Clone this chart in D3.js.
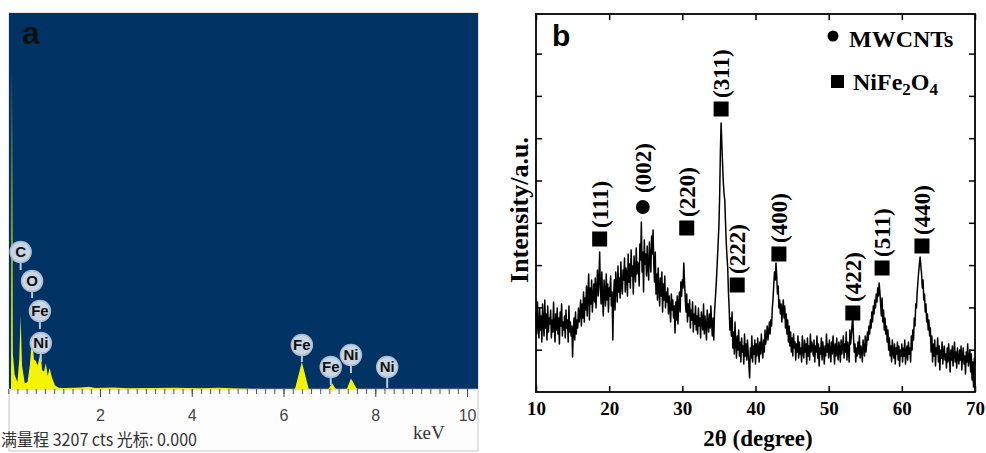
<!DOCTYPE html>
<html>
<head>
<meta charset="utf-8">
<script src="https://d3js.org/d3.v7.min.js"></script>
<style>
html, body { margin: 0; padding: 0; background: #fff; overflow: hidden; }
</style>
</head>
<body>
<svg width="986" height="453"></svg>
<script>
// ---- panel a: EDS spectrum ----
var edsKeV = [0, 0.06, 0.08, 0.10, 0.14, 0.20, 0.24, 0.27, 0.30, 0.36, 0.42, 0.47, 0.52, 0.56, 0.60, 0.64, 0.70, 0.74, 0.78, 0.82, 0.86, 0.90, 0.96, 1.02, 1.10, 1.20,
  1.45, 1.60, 1.75, 1.90, 2.30, 2.60, 3.20, 3.60, 4.20, 4.60, 5.00, 5.50, 6.25, 6.40, 6.55, 6.98, 7.06, 7.14, 7.38, 7.47, 7.60, 10.2]
var edsCts = [0, 0, 2750, 300, 120, 60, 250, 630, 200, 50, 60, 200, 440, 250, 240, 200, 300, 160, 150, 220, 110, 180, 90, 30, 10, 8,
  10, 12, 20, 8, 12, 6, 8, 10, 6, 10, 4, 0, 0, 230, 0, 0, 50, 0, 0, 90, 0, 0]
var edsTicks = [2, 4, 6, 8, 10]
var edsLabels = ["C", "O", "Fe", "Ni", "Fe", "Fe", "Ni", "Ni"]
var edsLabelKeV = [0.27, 0.52, 0.69, 0.71, 6.40, 7.03, 7.47, 8.26]
var edsLabelCts = [1169, 921, 665, 392, 375, 188, 290, 188]
var edsStemCts = [1015, 776, 512, 230, 230, 34, 136, 9]
var edsFooter = "满量程 3207 cts 光标: 0.000"

// ---- panel b: XRD pattern (2θ from 10 to 70 every 0.1) ----
var xrdIntensity = [
  80, 58, 90, 66, 54, 84, 62, 76, 50, 88, 70, 56, 92, 64, 78, 52, 86, 60, 74, 68,
  82, 54, 72, 60, 90, 66, 50, 78, 62, 84, 58, 74, 48, 80, 66, 88, 56, 70, 62, 76,
  54, 82, 64, 72, 50, 86, 60, 70, 56, 66, 35, 62, 74, 52, 80, 58, 72, 64, 84, 70,
  78, 92, 66, 88, 74, 100, 70, 94, 82, 106, 76, 98, 118, 72, 104, 88, 112, 80, 96, 108,
  90, 114, 84, 102, 122, 96, 110, 140, 104, 88, 120, 94, 76, 112, 100, 86, 118, 92, 108, 80,
  104, 96, 116, 86, 100, 52, 94, 112, 82, 120, 106, 90, 126, 100, 114, 94, 130, 108, 98, 122,
  112, 134, 100, 124, 118, 96, 138, 110, 128, 104, 142, 116, 126, 98, 136, 122, 110, 144, 118, 130,
  126, 106, 148, 132, 170, 120, 140, 100, 152, 128, 138, 116, 146, 124, 112, 150, 134, 120, 156, 138,
  162, 128, 110, 140, 98, 118, 92, 124, 104, 86, 114, 96, 120, 80, 108, 92, 116, 84, 100, 90,
  104, 78, 96, 84, 70, 98, 82, 92, 74, 86, 59, 90, 72, 96, 68, 88, 100, 80, 110, 96,
  112, 104, 129, 110, 94, 80, 98, 70, 88, 76, 92, 64, 82, 72, 90, 60, 78, 68, 86, 62,
  76, 58, 84, 66, 74, 54, 80, 70, 62, 88, 58, 76, 66, 52, 82, 70, 60, 78, 64, 86,
  68, 56, 74, 52, 80, 92, 104, 118, 134, 150, 166, 196, 240, 269, 248, 228, 210, 198, 192, 170,
  150, 136, 125, 100, 84, 62, 74, 56, 80, 44, 60, 38, 70, 48, 34, 56, 42, 62, 36, 50,
  30, 54, 40, 46, 28, 58, 36, 48, 32, 52, 40, 26, 14, 44, 34, 56, 30, 46, 38, 52,
  28, 48, 36, 54, 42, 30, 50, 38, 58, 44, 34, 52, 40, 62, 48, 56, 66, 52, 60, 70,
  58, 72, 66, 84, 94, 108, 120, 112, 129, 116, 98, 106, 84, 92, 78, 88, 70, 82, 92, 74,
  86, 64, 78, 58, 72, 50, 66, 46, 60, 40, 54, 36, 58, 44, 50, 32, 48, 40, 56, 34,
  50, 38, 44, 30, 56, 42, 34, 52, 40, 48, 28, 54, 36, 46, 32, 58, 40, 50, 44, 36,
  52, 30, 46, 40, 56, 34, 48, 26, 44, 38, 54, 32, 50, 42, 28, 46, 36, 58, 40, 48,
  34, 52, 42, 30, 50, 38, 56, 44, 28, 48, 36, 54, 40, 32, 50, 44, 30, 52, 38, 46,
  56, 34, 48, 40, 60, 32, 50, 44, 30, 62, 48, 56, 68, 75, 54, 40, 48, 30, 44, 36,
  50, 38, 56, 34, 46, 42, 30, 52, 44, 36, 56, 40, 48, 60, 52, 66, 58, 72, 64, 80,
  70, 86, 78, 92, 84, 98, 90, 104, 96, 109, 100, 88, 76, 94, 70, 82, 62, 74, 58, 66,
  50, 62, 42, 54, 36, 46, 30, 52, 40, 34, 48, 28, 44, 38, 50, 32, 46, 26, 42, 36,
  48, 30, 44, 36, 52, 28, 40, 46, 32, 50, 38, 44, 30, 56, 42, 62, 52, 74, 66, 88,
  84, 100, 110, 120, 128, 135, 126, 118, 104, 112, 92, 98, 80, 88, 70, 78, 62, 72, 56, 64,
  40, 56, 30, 48, 36, 52, 26, 44, 38, 54, 30, 46, 22, 42, 34, 50, 28, 40, 46, 32,
  38, 24, 44, 30, 48, 36, 20, 42, 32, 46, 26, 38, 50, 30, 40, 24, 44, 34, 28, 42,
  32, 46, 22, 38, 44, 28, 36, 18, 40, 30, 48, 26, 34, 42, 20, 38, 12, 30, 5, 34,
  28]
var xrdTheta = xrdIntensity.map(function (d, i) { return 10 + i * 0.1 })
var xrdTicks = [10, 20, 30, 40, 50, 60, 70]
var hkl = ["(111)", "(002)", "(220)", "(311)", "(222)", "(400)", "(422)", "(511)", "(440)"]
var hklTheta = [18.7, 24.6, 30.6, 35.3, 37.5, 43.2, 53.3, 57.3, 62.75]
var hklMark = [153, 185, 164, 283, 107, 138, 79, 124, 146]
var hklPhase = ["NiFe2O4", "MWCNTs", "NiFe2O4", "NiFe2O4", "NiFe2O4", "NiFe2O4", "NiFe2O4", "NiFe2O4", "NiFe2O4"]

var serif = "'Liberation Serif', 'Times New Roman', serif"
var sans = "'Liberation Sans', Arial, sans-serif"
var svg = d3.select("svg")

//==== Panel a ====
var xA = d3.scaleLinear().domain([0, 10.2]).range([8.25, 476.2])
var yA = d3.scaleLinear().domain([0, 3207]).range([389, 13])
var pa = svg.append("g")

pa.append("rect").attr("x", 9).attr("y", 13).attr("width", 469).attr("height", 438)
  .attr("fill", "#fdfdfd").attr("stroke", "#c8c8c8")
pa.append("rect").attr("x", 9).attr("y", 13).attr("width", 469).attr("height", 376)
  .attr("fill", "#013365")

pa.append("path").datum(edsKeV)
  .attr("d", d3.area().x(function (d) { return xA(d) })
    .y0(yA(0)).y1(function (d, i) { return yA(edsCts[i]) }))
  .attr("fill", "#f4f400")
pa.append("line").attr("x1", 9).attr("x2", 478).attr("y1", 389.5).attr("y2", 389.5)
  .attr("stroke", "#e8e0a0").attr("stroke-width", 1.5)

// ruler ticks
pa.append("g").attr("transform", "translate(0,389)")
  .call(d3.axisBottom(xA).tickValues(d3.range(0, 51).map(function (i) { return i * 0.2 }))
    .tickSize(5).tickFormat(""))
  .call(function (g) {
    g.select(".domain").remove()
    g.selectAll("line").attr("stroke", "#555")
  })
pa.append("g").attr("transform", "translate(0,389)")
  .call(d3.axisBottom(xA).tickValues(edsTicks).tickSize(8).tickPadding(13))
  .call(function (g) {
    g.select(".domain").remove()
    g.selectAll("line").attr("stroke", "#444")
    g.selectAll("text").attr("fill", "#444").style("font", "16px " + sans)
  })
pa.append("text").text("keV").attr("x", 413).attr("y", 439)
  .style("font", "19px " + serif).attr("fill", "#333")
pa.append("text").text(edsFooter).attr("x", 1).attr("y", 446)
  .attr("textLength", 196).attr("lengthAdjust", "spacingAndGlyphs")
  .style("font", "17px 'Noto Sans CJK SC', sans-serif").attr("fill", "#333")

// element labels
var lab = pa.selectAll(".elab").data(edsLabels).enter().append("g").attr("class", "elab")
lab.append("line")
  .attr("x1", function (d, i) { return xA(edsLabelKeV[i]) })
  .attr("x2", function (d, i) { return xA(edsLabelKeV[i]) })
  .attr("y1", function (d, i) { return yA(edsLabelCts[i]) })
  .attr("y2", function (d, i) { return yA(edsStemCts[i]) })
  .attr("stroke", "#b9cbdc").attr("stroke-width", 2)
lab.append("circle")
  .attr("cx", function (d, i) { return xA(edsLabelKeV[i]) })
  .attr("cy", function (d, i) { return yA(edsLabelCts[i]) })
  .attr("r", 10.5).attr("fill", "#c9d5e2").attr("stroke", "#a7bdd2").attr("stroke-width", 1.5)
lab.append("text").text(function (d) { return d })
  .attr("x", function (d, i) { return xA(edsLabelKeV[i]) })
  .attr("y", function (d, i) { return yA(edsLabelCts[i]) + 5 })
  .attr("text-anchor", "middle")
  .style("font", "bold 15px 'Liberation Sans Narrow', " + sans).attr("fill", "#111")

pa.append("text").text("a").attr("x", 22).attr("y", 44)
  .style("font", "bold 32px " + sans).attr("fill", "#111")

//==== Panel b ====
var xB = d3.scaleLinear().domain([10, 70]).range([536, 975])
var yB = d3.scaleLinear().domain([0, 378]).range([392, 14])
var yTicks = d3.range(1, 9).map(function (k) { return k * 42.3 })
var pb = svg.append("g")

function frameStyle(g) {
  g.select(".domain").remove()
  g.selectAll("line").attr("stroke", "#000").attr("stroke-width", 1.5)
}
pb.append("g").attr("transform", "translate(0,392)")
  .call(d3.axisBottom(xB).tickValues(xrdTicks).tickSize(-6).tickPadding(9.5))
  .call(frameStyle)
  .call(function (g) { g.selectAll("text").attr("fill", "#000").style("font", "bold 19px " + serif) })
pb.append("g").attr("transform", "translate(0,14)")
  .call(d3.axisTop(xB).tickValues(xrdTicks).tickSize(-6).tickFormat("")).call(frameStyle)
pb.append("g").attr("transform", "translate(536,0)")
  .call(d3.axisLeft(yB).tickValues(yTicks).tickSize(-6).tickFormat("")).call(frameStyle)
pb.append("g").attr("transform", "translate(975,0)")
  .call(d3.axisRight(yB).tickValues(yTicks).tickSize(-6).tickFormat("")).call(frameStyle)
pb.append("rect").attr("x", 536).attr("y", 14).attr("width", 439).attr("height", 378)
  .attr("fill", "none").attr("stroke", "#000").attr("stroke-width", 1.8)

pb.append("path").datum(xrdIntensity)
  .attr("d", d3.line().x(function (d, i) { return xB(xrdTheta[i]) }).y(function (d) { return yB(d) }))
  .attr("fill", "none").attr("stroke", "#000").attr("stroke-width", 1.5).attr("stroke-linejoin", "round")

// peak markers
pb.selectAll(".mk").data(hkl).enter().append("path").attr("class", "mk")
  .attr("transform", function (d, i) { return "translate(" + xB(hklTheta[i]) + "," + yB(hklMark[i]) + ")" })
  .attr("d", function (d, i) {
    return hklPhase[i] == "MWCNTs" ? d3.symbol(d3.symbolCircle, 150)() : d3.symbol(d3.symbolSquare, 225)()
  })
  .attr("fill", "#000")
pb.selectAll(".hkl").data(hkl).enter().append("text").attr("class", "hkl").text(function (d) { return d })
  .attr("transform", function (d, i) {
    var gap = hklPhase[i] == "MWCNTs" ? 14 : 11
    return "translate(" + (xB(hklTheta[i]) + 8) + "," + (yB(hklMark[i]) - gap) + ") rotate(-90)"
  })
  .style("font", "bold 23px " + serif).attr("fill", "#000")

// legend
pb.append("path").attr("transform", "translate(833,36)").attr("d", d3.symbol(d3.symbolCircle, 95)()).attr("fill", "#000")
pb.append("text").text("MWCNTs").attr("x", 849).attr("y", 47)
  .style("font", "bold 24px " + serif).attr("fill", "#000")
pb.append("rect").attr("x", 831).attr("y", 75).attr("width", 13).attr("height", 13).attr("fill", "#000")
var leg2 = pb.append("text").attr("x", 853).attr("y", 90).style("font", "bold 24px " + serif).attr("fill", "#000")
leg2.append("tspan").text("NiFe")
leg2.append("tspan").text("2").attr("dy", 5).style("font-size", "17px")
leg2.append("tspan").text("O").attr("dy", -5)
leg2.append("tspan").text("4").attr("dy", 5).style("font-size", "17px")

pb.append("text").text("b").attr("x", 552).attr("y", 46)
  .style("font", "bold 30px " + sans).attr("fill", "#000")
pb.append("text").text("2θ (degree)").attr("x", 758).attr("y", 446).attr("text-anchor", "middle")
  .style("font", "bold 23px " + serif).attr("fill", "#000")
pb.append("text").text("Intensity/a.u.")
  .attr("transform", "translate(528,210) rotate(-90)").attr("text-anchor", "middle")
  .style("font", "bold 26px " + serif).attr("fill", "#000")
</script>
</body>
</html>
